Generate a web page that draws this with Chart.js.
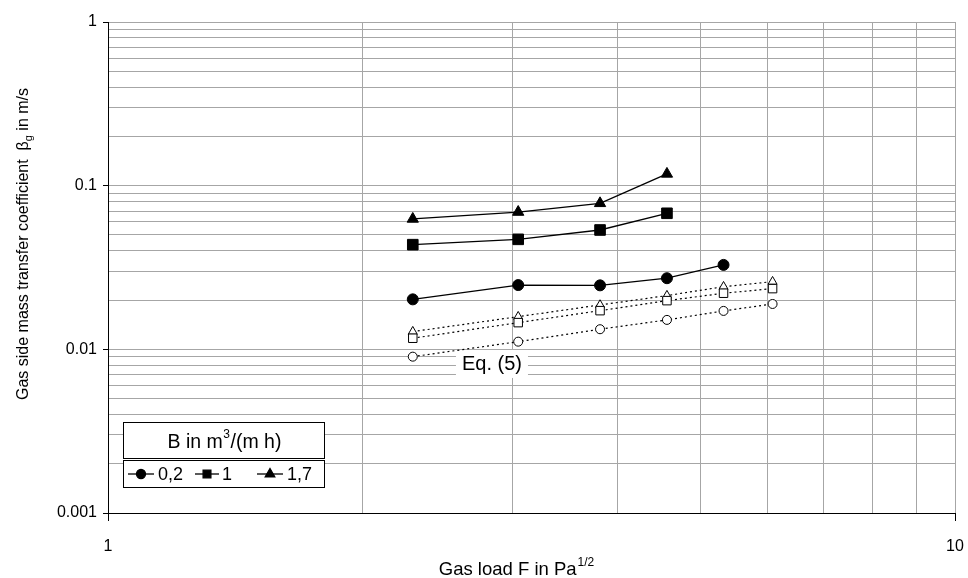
<!DOCTYPE html>
<html>
<head>
<meta charset="utf-8">
<script src="https://cdn.jsdelivr.net/npm/chart.js@4.4.1/dist/chart.umd.min.js"></script>
<style>
  html, body { margin: 0; padding: 0; background: #fff; }
  #wrap { width: 968px; height: 578px; }
</style>
</head>
<body>
<div id="wrap"><canvas id="c" width="968" height="578"></canvas></div>
<script>
// ---- data ----
const gasLoadF = [2.29, 3.05, 3.81, 4.57, 5.33, 6.09];      // Pa^1/2
const measB02 = [0.0202, 0.0247, 0.0246, 0.0272, 0.0328];    // B = 0,2
const measB1  = [0.0436, 0.0470, 0.0536, 0.0678];            // B = 1
const measB17 = [0.0626, 0.0690, 0.0780, 0.1180];            // B = 1,7
const eqB02 = [0.00902, 0.01114, 0.01327, 0.01513, 0.01717, 0.01893]; // Eq. (5), B = 0,2
const eqB1  = [0.01169, 0.01456, 0.01723, 0.01984, 0.02202, 0.02350]; // Eq. (5), B = 1
const eqB17 = [0.01283, 0.01584, 0.01867, 0.02130, 0.02415, 0.02592]; // Eq. (5), B = 1,7
const seriesLabels = ['0,2', '1', '1,7'];
const xGridValues = [1, 2, 3, 4, 5, 6, 7, 8, 9, 10];
const yGridValues = [0.001, 0.002, 0.003, 0.004, 0.005, 0.006, 0.007, 0.008, 0.009,
                     0.01, 0.02, 0.03, 0.04, 0.05, 0.06, 0.07, 0.08, 0.09,
                     0.1, 0.2, 0.3, 0.4, 0.5, 0.6, 0.7, 0.8, 0.9, 1];
const xTickLabels = ['1', '10'];
const yTickLabels = ['0.001', '0.01', '0.1', '1'];
const legendTitle = 'B in m';
const eqLabel = 'Eq. (5)';
const eqLabelPos = { x: 2.84, y: 0.00814 };

const FONT = '"Liberation Sans", Arial, Helvetica, sans-serif';

function pts(ys) { return ys.map((y, i) => ({ x: gasLoadF[i], y: y })); }
function isDecade(v) { const l = Math.log10(v); return Math.abs(l - Math.round(l)) < 1e-6; }

function measured(label, ys, style, r) {
  return { label, data: pts(ys), borderColor: '#000', backgroundColor: '#000',
    borderWidth: 1.3, pointStyle: style, pointRadius: r, pointHoverRadius: r,
    pointBackgroundColor: '#000', pointBorderColor: '#000', pointBorderWidth: 1, order: 1 };
}
function model(label, ys, style, r) {
  return { label, data: pts(ys), borderColor: '#000', backgroundColor: '#fff',
    borderWidth: 1.2, borderDash: [2, 3], pointStyle: style, pointRadius: r, pointHoverRadius: r,
    pointBackgroundColor: '#fff', pointBorderColor: '#000', pointBorderWidth: 1, order: 2 };
}

const overlay = {
  id: 'overlay',
  beforeDatasetsDraw(chart) {
    const ctx = chart.ctx;
    const xs = chart.scales.x, ys = chart.scales.y;
    const px = xs.getPixelForValue(eqLabelPos.x), py = ys.getPixelForValue(eqLabelPos.y);
    ctx.save();
    ctx.font = '20px ' + FONT;
    const w = ctx.measureText(eqLabel).width;
    ctx.fillStyle = '#fff';
    ctx.fillRect(px - w / 2 - 6, py - 14, w + 12, 28);
    ctx.fillStyle = '#000';
    ctx.textAlign = 'center';
    ctx.textBaseline = 'middle';
    ctx.fillText(eqLabel, px, py + 1);
    ctx.restore();
  },
  afterDraw(chart) {
    const ctx = chart.ctx;
    ctx.save();
    ctx.fillStyle = '#000';
    // x title
    ctx.textBaseline = 'alphabetic';
    const t1 = 'Gas load F in Pa';
    ctx.font = '18.5px ' + FONT;
    const w1 = ctx.measureText(t1).width;
    ctx.font = '12px ' + FONT;
    const w2 = ctx.measureText('1/2').width;
    const cx = 516;
    let x0 = cx - (w1 + w2) / 2;
    ctx.font = '18.5px ' + FONT;
    ctx.textAlign = 'left';
    ctx.fillText(t1, x0, 575);
    ctx.font = '12px ' + FONT;
    ctx.fillText('1/2', x0 + w1 + 1, 566);

    // y title (rotated)
    ctx.save();
    ctx.translate(28, 244);
    ctx.rotate(-Math.PI / 2);
    const p1 = 'Gas side mass transfer coefficient  ', p2 = '\u03B2', p3 = 'g', p4 = ' in m/s';
    ctx.font = '16px ' + FONT;
    const a1 = ctx.measureText(p1).width, a2 = ctx.measureText(p2).width, a4 = ctx.measureText(p4).width;
    ctx.font = '11px ' + FONT;
    const a3 = ctx.measureText(p3).width;
    let sx = -(a1 + a2 + a3 + a4) / 2;
    ctx.font = '16px ' + FONT;
    ctx.fillText(p1, sx, 0); sx += a1;
    ctx.fillText(p2, sx, 0); sx += a2;
    ctx.font = '11px ' + FONT;
    ctx.fillText(p3, sx, 4); sx += a3;
    ctx.font = '16px ' + FONT;
    ctx.fillText(p4, sx, 0);
    ctx.restore();

    // legend
    const L = 123, R = 325;
    ctx.fillStyle = '#fff';
    ctx.fillRect(L, 422, R - L, 37);
    ctx.fillRect(L, 460, R - L, 28);
    ctx.strokeStyle = '#000';
    ctx.lineWidth = 1;
    ctx.strokeRect(L + 0.5, 422.5, R - L - 1, 36);
    ctx.strokeRect(L + 0.5, 460.5, R - L - 1, 27);
    ctx.fillStyle = '#000';
    ctx.font = '19.5px ' + FONT;
    const h1 = legendTitle, h2 = '3', h3 = '/(m h)';
    const b1 = ctx.measureText(h1).width, b3 = ctx.measureText(h3).width;
    ctx.font = '12px ' + FONT;
    const b2 = ctx.measureText(h2).width;
    let hx = 224 - (b1 + b2 + b3) / 2;
    ctx.textBaseline = 'alphabetic';
    ctx.font = '19.5px ' + FONT;
    ctx.fillText(h1, hx, 448); hx += b1;
    ctx.font = '12px ' + FONT;
    ctx.fillText(h2, hx + 0.5, 438); hx += b2 + 1;
    ctx.font = '19.5px ' + FONT;
    ctx.fillText(h3, hx, 448);

    const items = [
      { x1: 128, x2: 154, style: 'circle', text: seriesLabels[0], tx: 158 },
      { x1: 195, x2: 219, style: 'rect', text: seriesLabels[1], tx: 222 },
      { x1: 257, x2: 283, style: 'triangle', text: seriesLabels[2], tx: 287 },
    ];
    const iy = 474;
    const sizes = { circle: 4.5, rect: 5.5, triangle: 5.5 };
    items.forEach(it => {
      ctx.strokeStyle = '#000';
      ctx.lineWidth = 1.3;
      ctx.beginPath(); ctx.moveTo(it.x1, iy); ctx.lineTo(it.x2, iy); ctx.stroke();
      ctx.fillStyle = '#000';
      Chart.helpers.drawPoint(ctx, { pointStyle: it.style, radius: sizes[it.style], borderWidth: 1 }, (it.x1 + it.x2) / 2, iy);
      ctx.fillStyle = '#000';
      ctx.font = '18px ' + FONT;
      ctx.textBaseline = 'middle';
      ctx.textAlign = 'left';
      ctx.fillText(it.text, it.tx, iy + 1);
    });
    ctx.restore();
  }
};

new Chart(document.getElementById('c'), {
  type: 'line',
  data: {
    datasets: [
      model('Eq. (5) B=0,2', eqB02, 'circle', 4.5),
      model('Eq. (5) B=1', eqB1, 'rect', 6),
      model('Eq. (5) B=1,7', eqB17, 'triangle', 5.2),
      measured(seriesLabels[0], measB02, 'circle', 5.5),
      measured(seriesLabels[1], measB1, 'rect', 7.5),
      measured(seriesLabels[2], measB17, 'triangle', 6.5),
    ]
  },
  options: {
    responsive: false,
    animation: false,
    devicePixelRatio: 1,
    layout: { padding: { left: 0, right: 13, top: 22, bottom: 0 } },
    plugins: { legend: { display: false }, tooltip: { enabled: false } },
    elements: { line: { tension: 0 } },
    scales: {
      x: {
        type: 'logarithmic', min: 1, max: 10,
        border: { color: '#000', width: 1 },
        grid: {
          color: '#a6a6a6', lineWidth: 1, tickLength: 8,
          tickColor: (c) => (c.tick && isDecade(c.tick.value)) ? '#000' : 'rgba(0,0,0,0)'
        },
        ticks: {
          autoSkip: false, maxRotation: 0, padding: 16, color: '#000',
          font: { family: FONT, size: 16 },
          callback: (v) => isDecade(v) ? xTickLabels[Math.round(Math.log10(v))] : ''
        },
        afterBuildTicks: (s) => { s.ticks = xGridValues.map(v => ({ value: v, major: isDecade(v) })); },
        afterFit: (s) => { s.height = 65; s.paddingLeft = 0; s.paddingRight = 0; }
      },
      y: {
        type: 'logarithmic', min: 0.001, max: 1,
        border: { color: '#000', width: 1 },
        grid: {
          color: '#a6a6a6', lineWidth: 1, tickLength: 5,
          tickColor: (c) => (c.tick && isDecade(c.tick.value)) ? '#000' : 'rgba(0,0,0,0)'
        },
        ticks: {
          autoSkip: false, padding: 6, color: '#000',
          font: { family: FONT, size: 16 },
          callback: (v) => isDecade(v) ? yTickLabels[Math.round(Math.log10(v)) + 3] : ''
        },
        afterBuildTicks: (s) => { s.ticks = yGridValues.map(v => ({ value: v, major: isDecade(v) })); },
        afterFit: (s) => { s.width = 108; s.paddingTop = 0; s.paddingBottom = 0; }
      }
    }
  },
  plugins: [overlay]
});
</script>
</body>
</html>
